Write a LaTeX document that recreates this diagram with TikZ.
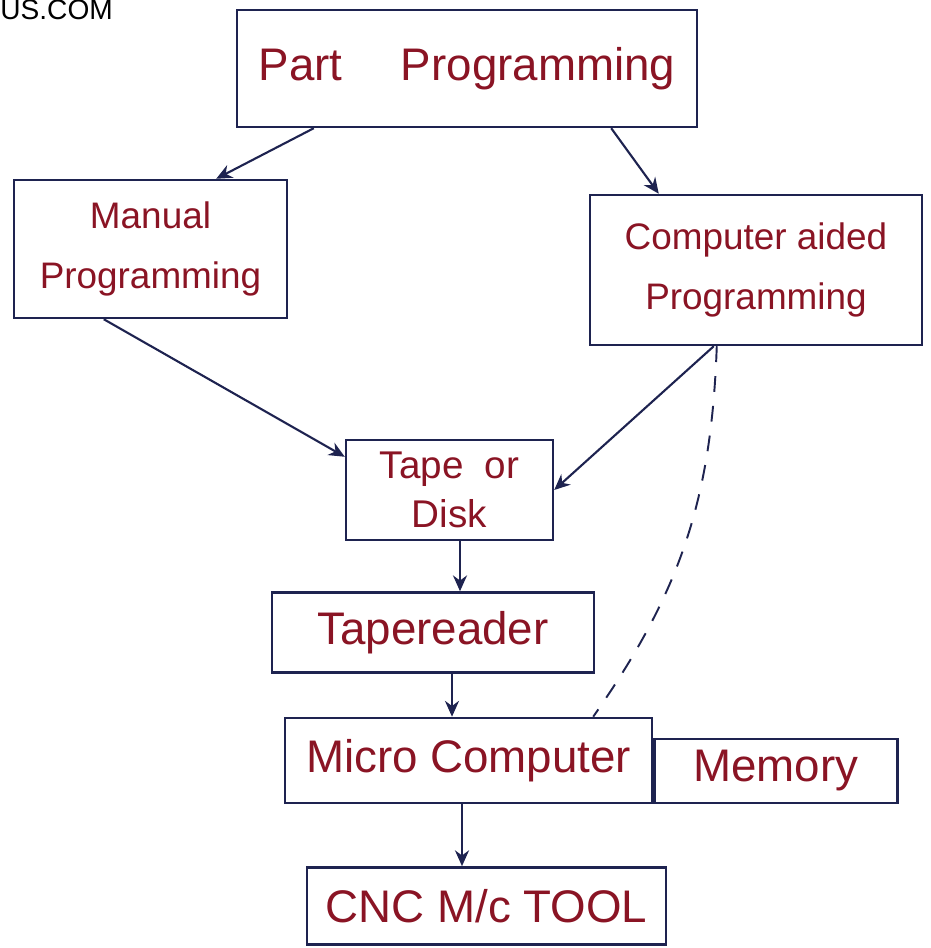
\documentclass[tikz,border=0pt]{standalone}
\usepackage{fontspec}
\setmainfont{Liberation Sans}
\usepackage{tikz}
\usetikzlibrary{positioning, arrows.meta}

\definecolor{ink}{HTML}{1E2350}
\definecolor{pen}{HTML}{8A1424}

\begin{document}
\begin{tikzpicture}[
    box/.style={rectangle, draw=ink, line width=1.4pt, align=center,
        text=pen, font=\fontsize{26}{34}\selectfont},
    small/.style={box, font=\fontsize{21}{34}\selectfont},
    flow/.style={-{Stealth[length=9pt, width=8pt]}, draw=ink, line width=1.2pt}
]
\useasboundingbox (0,0) rectangle (18.62,18.96);

% Page watermark
\node[anchor=north west, inner sep=0pt, font=\fontsize{16}{16}\selectfont] (mark) at (0,18.96) {US.COM};

% Top row
\node[box, minimum width=9.2cm, minimum height=2.34cm] (part) at (9.34,17.59) {Part \quad Programming};
\node[small, minimum width=5.46cm, minimum height=2.76cm] (manual) at (3.01,13.98) {Manual\\Programming};
\node[small, minimum width=6.64cm, minimum height=3cm] (cap) at (15.12,13.56) {Computer aided\\Programming};

% Main chain
\node[small, minimum width=4.14cm, minimum height=2cm, inner sep=2pt, font=\fontsize{22}{28}\selectfont] (tape) at (8.99,9.16) {Tape \ or\\Disk};
\node[box, minimum width=6.44cm, minimum height=1.6cm, below=1.0cm of tape, xshift=-0.33cm] (reader) {Tapereader};
\node[box, minimum width=7.34cm, minimum height=1.7cm, below=0.86cm of reader, xshift=0.71cm] (micro) {Micro Computer};
\node[box, minimum width=4.86cm, minimum height=1.28cm, anchor=south west] (memory) at (micro.south east) {Memory};
\node[box, minimum width=7.18cm, minimum height=1.54cm, below=1.24cm of micro, xshift=0.36cm] (cnc) {CNC M/c TOOL};

% Connectors
\draw[flow] ([xshift=1.56cm]part.south west) -- ([xshift=-1.44cm]manual.north east);
\draw[flow] ([xshift=-1.74cm]part.south east) -- ([xshift=1.4cm]cap.north west);
\draw[flow] ([xshift=1.82cm]manual.south west) -- ([yshift=-0.36cm]tape.north west);
\draw[flow] ([xshift=2.5cm]cap.south west) -- (tape.east);
\draw[flow] ([xshift=0.21cm]tape.south) coordinate (t1) -- (t1 |- reader.north);
\draw[flow] ([xshift=0.38cm]reader.south) coordinate (t2) -- (t2 |- micro.north);
\draw[flow] ([xshift=-0.13cm]micro.south) coordinate (t3) -- (t3 |- cnc.north);
\draw[ink, line width=1.1pt, dash pattern=on 9pt off 8pt] ([xshift=2.56cm]cap.south west) to[out=-92, in=55] ([xshift=-1.2cm]micro.north east);

\end{tikzpicture}
\end{document}
